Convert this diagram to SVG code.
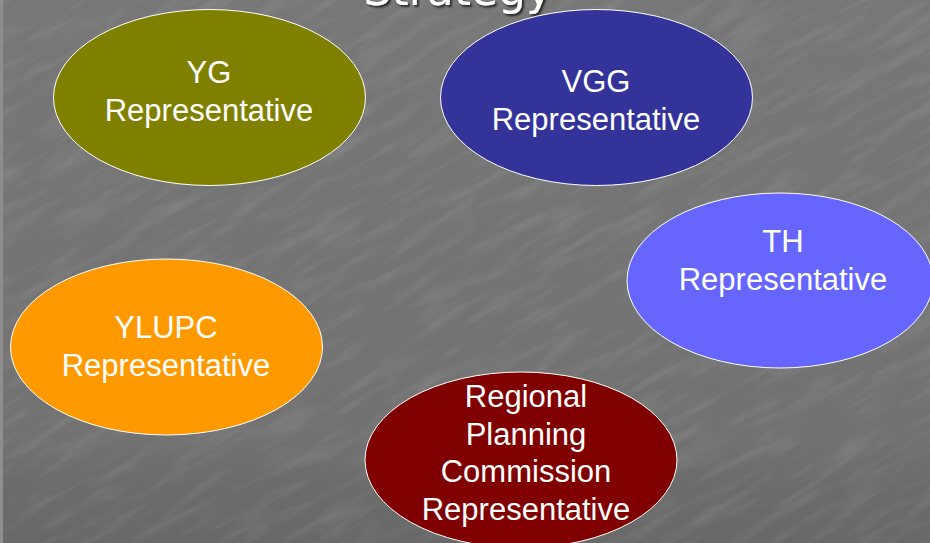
<svg xmlns="http://www.w3.org/2000/svg" width="930" height="543" viewBox="0 0 930 543">
  <defs>
    <linearGradient id="bg" x1="0" y1="0" x2="0" y2="1">
      <stop offset="0" stop-color="#777777"/>
      <stop offset="0.8" stop-color="#727272"/>
      <stop offset="0.9" stop-color="#6b6b6b"/>
      <stop offset="1" stop-color="#686868"/>
    </linearGradient>
    <filter id="tex" x="0" y="0" width="100%" height="100%">
      <feTurbulence type="fractalNoise" baseFrequency="0.015 0.09" numOctaves="4" seed="7"/>
      <feColorMatrix type="matrix" values="0 0 0 0 1  0 0 0 0 1  0 0 0 0 1  0 0 0 0.5 -0.22"/>
    </filter>
    <filter id="shadow" x="-10%" y="-50%" width="120%" height="200%">
      <feDropShadow dx="2" dy="2" stdDeviation="1" flood-color="#000" flood-opacity="0.7"/>
    </filter>
  </defs>
  <style>
    .node { stroke: #ffffff; stroke-width: 1; }
    .lbl { font-family: "Liberation Sans", Arial, sans-serif; font-size: 31px; fill: #ffffff; text-anchor: middle; }
    .title { font-family: "DejaVu Sans", Verdana, sans-serif; font-size: 44px; fill: #ffffff; text-anchor: end; }
  </style>
  <rect x="0" y="0" width="930" height="543" fill="url(#bg)"/>
  <g transform="rotate(-30 465 271)">
    <rect x="-300" y="-300" width="1530" height="1143" filter="url(#tex)" opacity="0.4"/>
  </g>
  <rect x="0" y="0" width="3" height="543" fill="#8e8e8e"/>
  <text class="title" x="552" y="5" filter="url(#shadow)">Strategy</text>

  <g id="connectors"></g>

  <g id="yg">
    <ellipse class="node" cx="209.5" cy="97.5" rx="156" ry="88" fill="#808000"/>
    <text class="lbl" x="209" y="83">YG</text>
    <text class="lbl" x="209" y="121">Representative</text>
  </g>
  <g id="vgg">
    <ellipse class="node" cx="596.5" cy="97.5" rx="156" ry="88" fill="#333399"/>
    <text class="lbl" x="596" y="92">VGG</text>
    <text class="lbl" x="596" y="130">Representative</text>
  </g>
  <g id="th">
    <ellipse class="node" cx="780" cy="280.5" rx="153" ry="87.5" fill="#6666FF"/>
    <text class="lbl" x="783" y="252">TH</text>
    <text class="lbl" x="783" y="290">Representative</text>
  </g>
  <g id="ylupc">
    <ellipse class="node" cx="166.5" cy="347" rx="156" ry="88" fill="#FF9900"/>
    <text class="lbl" x="166" y="338">YLUPC</text>
    <text class="lbl" x="166" y="376">Representative</text>
  </g>
  <g id="rpc">
    <ellipse class="node" cx="521" cy="460" rx="156" ry="88" fill="#800000"/>
    <text class="lbl" x="526" y="407">Regional</text>
    <text class="lbl" x="526" y="445">Planning</text>
    <text class="lbl" x="526" y="482">Commission</text>
    <text class="lbl" x="526" y="520">Representative</text>
  </g>
</svg>
